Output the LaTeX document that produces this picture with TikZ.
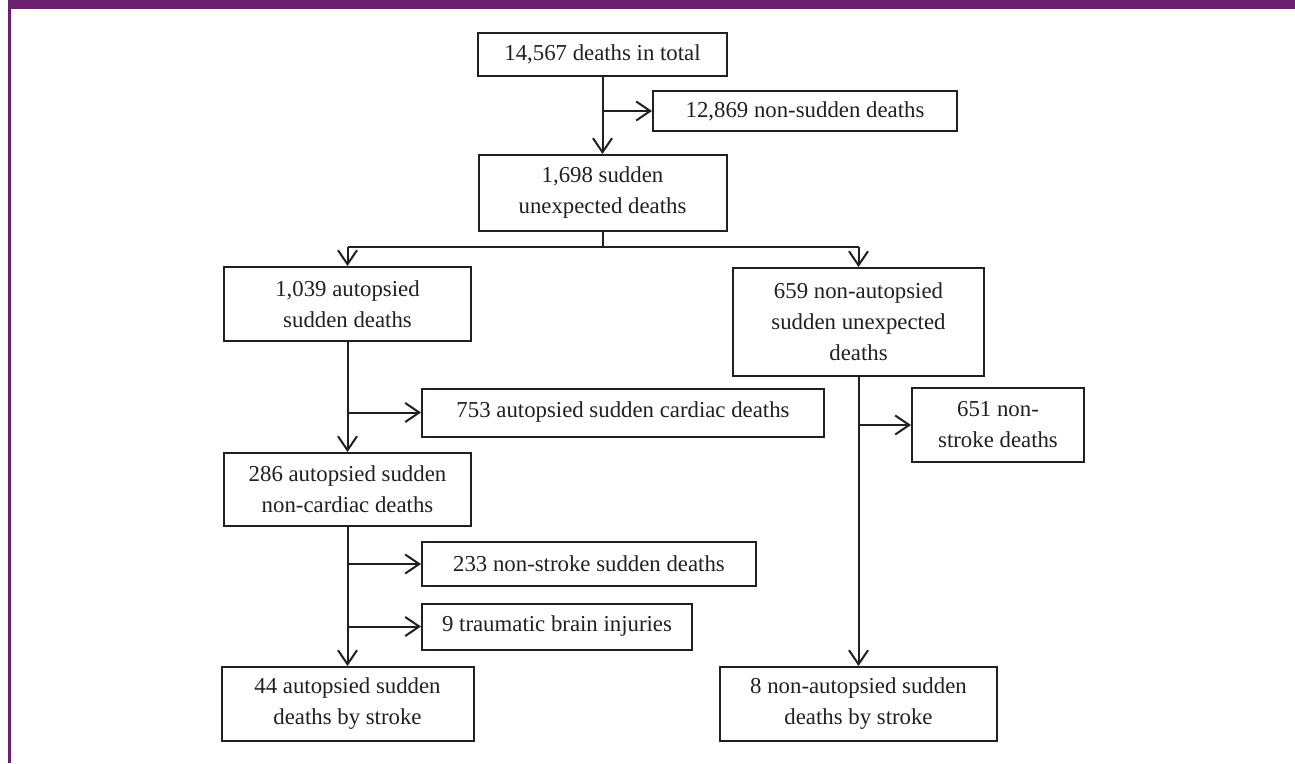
\documentclass[tikz,border=0pt]{standalone}
\usepackage{fontspec}
\setmainfont{Liberation Serif}
\usetikzlibrary{arrows.meta}
\definecolor{purp}{RGB}{107,32,112}
\definecolor{ink}{RGB}{35,31,32}
\tikzset{
  box/.style={draw=ink, line width=2pt, align=center, inner sep=0pt, text=ink,
    font=\fontsize{22.8}{31}\selectfont},
  arr/.style={draw=ink, line width=2pt, -{Straight Barb[length=14pt,width=19pt,line width=2pt]}},
  conn/.style={draw=ink, line width=2pt}
}
\begin{document}
\begin{tikzpicture}[x=1pt,y=1pt]
\useasboundingbox (0,0) rectangle (1295,-763);
\fill[white] (0,0) rectangle (1295,-763);
\fill[purp] (8,0) rectangle (1295,-9);
\fill[purp] (8,0) rectangle (10.5,-763);

\node[box, minimum width=249pt, minimum height=43pt] (b1) at (602.5,-54.5) {14,567 deaths in total};
\node[box, minimum width=304pt, minimum height=40pt] (n1) at (805,-111) {12,869 non-sudden deaths};
\node[box, minimum width=248pt, minimum height=76pt] (b2) at (602.5,-193) {1,698 sudden\\unexpected deaths};
\node[box, minimum width=247pt, minimum height=74pt] (l1) at (347.5,-304) {1,039 autopsied\\sudden deaths};
\node[box, minimum width=251pt, minimum height=108pt] (r1) at (858.5,-322) {659 non-autopsied\\sudden unexpected\\deaths};
\node[box, minimum width=402pt, minimum height=48pt] (c753) at (623,-412.5) {753 autopsied sudden cardiac deaths};
\node[box, minimum width=247pt, minimum height=73pt] (l2) at (347.5,-489.5) {286 autopsied sudden\\non-cardiac deaths};
\node[box, minimum width=334pt, minimum height=44pt] (s233) at (589,-564) {233 non-stroke sudden deaths};
\node[box, minimum width=270pt, minimum height=46pt] (t9) at (557,-626.5) {9 traumatic brain injuries};
\node[box, minimum width=252pt, minimum height=74pt] (l3) at (347.5,-704) {44 autopsied sudden\\deaths by stroke};
\node[box, minimum width=172pt, minimum height=74pt] (s651) at (998,-425) {651 non-\\stroke deaths};
\node[box, minimum width=277pt, minimum height=74pt] (r2) at (858.5,-704) {8 non-autopsied sudden\\deaths by stroke};

\coordinate (spl) at (602.5,-247);

% top
\draw[arr] (b1.south) -- (b1.south |- b2.north);
\draw[arr] (b1.south |- n1.west) -- (n1.west);
% split
\draw[conn] (b2.south) -- (spl);
\draw[conn] (l1.north |- spl) -- (r1.north |- spl);
\draw[arr] (l1.north |- spl) -- (l1.north);
\draw[arr] (r1.north |- spl) -- (r1.north);
% left column
\draw[arr] (l1.south) -- (l1.south |- l2.north);
\draw[arr] (l1.south |- c753.west) -- (c753.west);
\draw[arr] (l2.south) -- (l2.south |- l3.north);
\draw[arr] (l2.south |- s233.west) -- (s233.west);
\draw[arr] (l2.south |- t9.west) -- (t9.west);
% right column
\draw[arr] (r1.south) -- (r1.south |- r2.north);
\draw[arr] (r1.south |- s651.west) -- (s651.west);
\end{tikzpicture}
\end{document}
